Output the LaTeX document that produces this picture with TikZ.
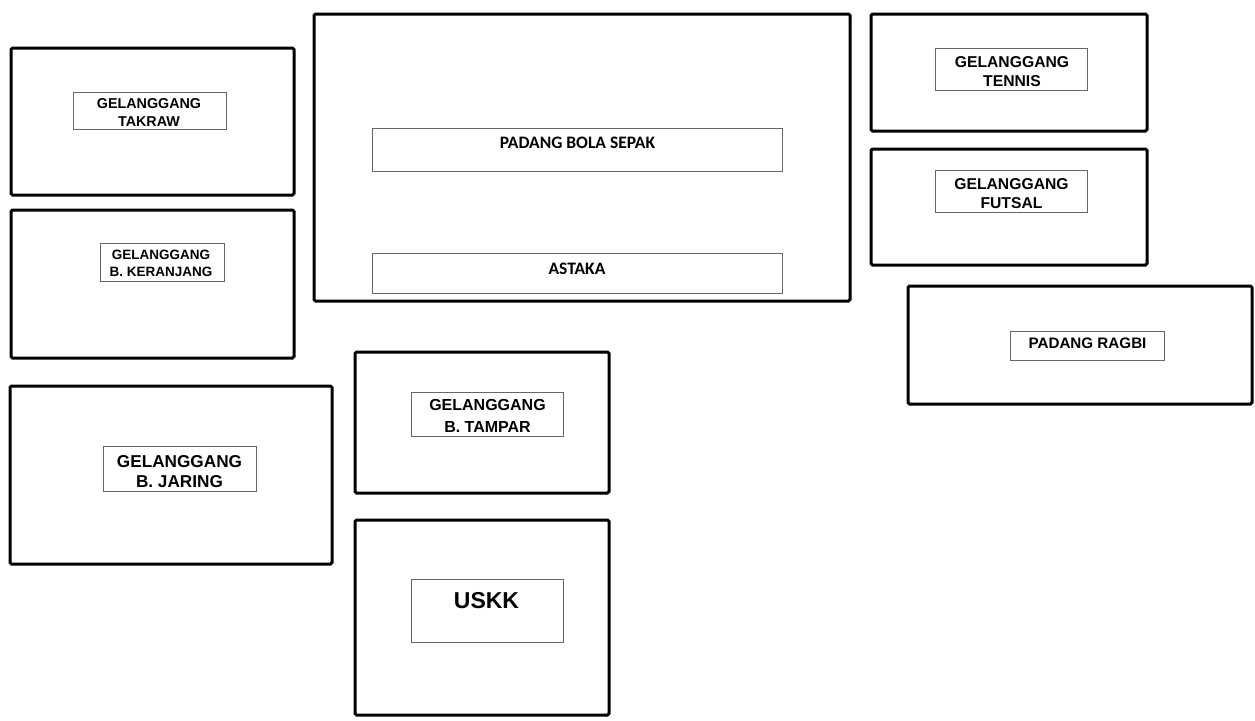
\documentclass[tikz,border=0pt]{standalone}
\usepackage{fontspec}
\setmainfont{Liberation Sans}
\newfontfamily\calfont{Carlito}
\begin{document}
\begin{tikzpicture}[x=1pt,y=-1pt,
  area/.style={draw=black, line width=3pt, rounded corners=1.5pt, inner sep=0pt},
  labelbox/.style={draw=black!60, line width=1pt, inner sep=0pt},
  lbl/.style={inner sep=0pt, align=center, text=black}]
\useasboundingbox (0,0) rectangle (1255,720);
% outer areas
\node[area, minimum width=283pt, minimum height=147pt] (takraw) at (152.5,121.5) {};
\node[area, minimum width=283pt, minimum height=148pt] (keranjang) at (152.5,284) {};
\node[area, minimum width=322pt, minimum height=178pt] (jaring) at (171,475) {};
\node[area, minimum width=536pt, minimum height=287pt] (bolasepak) at (582,157.5) {};
\node[area, minimum width=254pt, minimum height=141pt] (tampar) at (482,422.5) {};
\node[area, minimum width=254pt, minimum height=195pt] (uskk) at (482,617.5) {};
\node[area, minimum width=276pt, minimum height=117pt] (tennis) at (1009,72.5) {};
\node[area, minimum width=276pt, minimum height=116pt] (futsal) at (1009,207) {};
\node[area, minimum width=344pt, minimum height=118pt] (ragbi) at (1080,345) {};
% label boxes
\node[labelbox, minimum width=153pt, minimum height=37pt] (takrawbox) at (149.5,110.5) {};
\node[labelbox, minimum width=124pt, minimum height=38pt] (keranjangbox) at (162,262) {};
\node[labelbox, minimum width=153pt, minimum height=45pt] (jaringbox) at (179.5,468.5) {};
\node[labelbox, minimum width=410pt, minimum height=43pt] (bolabox) at (577,149.5) {};
\node[labelbox, minimum width=410pt, minimum height=40pt] (astakabox) at (577,273) {};
\node[labelbox, minimum width=152pt, minimum height=44pt] (tamparbox) at (487,414) {};
\node[labelbox, minimum width=152pt, minimum height=63pt] (uskkbox) at (487,610.5) {};
\node[labelbox, minimum width=152pt, minimum height=42pt] (tennisbox) at (1011,69) {};
\node[labelbox, minimum width=152pt, minimum height=42pt] (futsalbox) at (1011,191) {};
\node[labelbox, minimum width=154pt, minimum height=29pt] (ragbibox) at (1087,345.5) {};
% texts
\node[lbl, font=\bfseries\fontsize{14.3}{18}\selectfont] (takrawtxt) at (149,113) {GELANGGANG\\TAKRAW};
\node[lbl, font=\bfseries\fontsize{13.5}{17}\selectfont] (keranjangtxt) at (161,263) {GELANGGANG\\B. KERANJANG};
\node[lbl, font=\bfseries\fontsize{17.2}{20}\selectfont] (jaringtxt) at (179.5,472) {GELANGGANG\\B. JARING};
\node[lbl, font=\calfont\bfseries\fontsize{17.5}{20}\selectfont] (bolatxt) at (577.5,143) {PADANG BOLA SEPAK};
\node[lbl, font=\calfont\bfseries\fontsize{17.5}{20}\selectfont] (astakatxt) at (577,269) {ASTAKA};
\node[lbl, font=\bfseries\fontsize{16}{22}\selectfont] (tampartxt) at (487.5,416) {GELANGGANG\\B. TAMPAR};
\node[lbl, font=\bfseries\fontsize{23}{26}\selectfont] (uskktxt) at (486.5,601) {USKK};
\node[lbl, font=\bfseries\fontsize{15.7}{19}\selectfont] (tennistxt) at (1012,71.5) {GELANGGANG\\TENNIS};
\node[lbl, font=\bfseries\fontsize{15.7}{19}\selectfont] (futsaltxt) at (1011.5,193.5) {GELANGGANG\\FUTSAL};
\node[lbl, font=\bfseries\fontsize{15.2}{18}\selectfont] (ragbitxt) at (1087.5,343) {PADANG RAGBI};
\end{tikzpicture}
\end{document}
